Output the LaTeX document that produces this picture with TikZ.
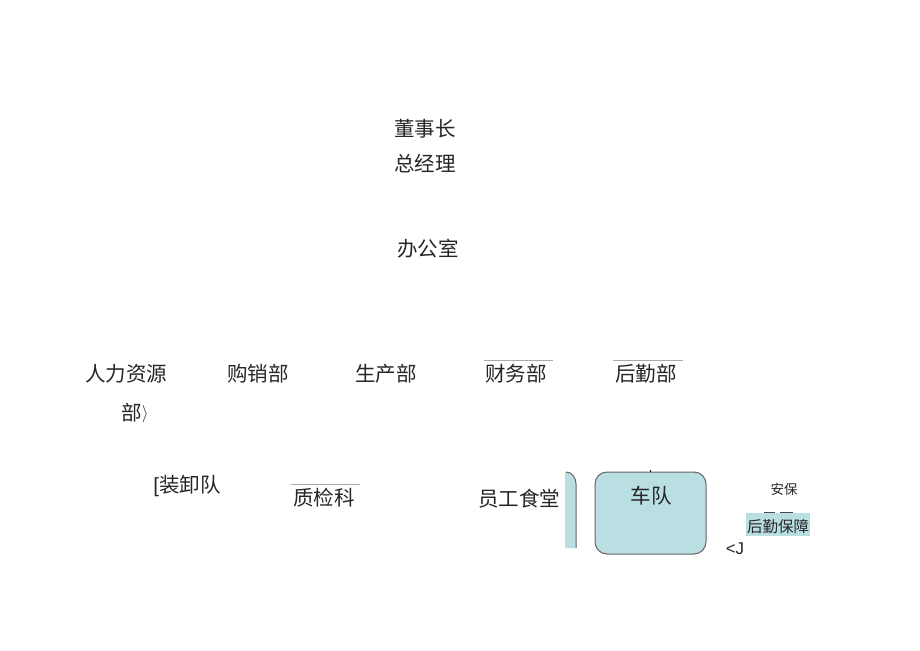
\documentclass[tikz,border=0pt]{standalone}
\usepackage{fontspec}
\newfontfamily\cjk{Noto Sans CJK SC}
\newfontfamily\lsans{Liberation Sans}
\definecolor{boxfill}{HTML}{B9DFE3}
\definecolor{boxline}{HTML}{666666}
\definecolor{rule}{HTML}{AAAAAA}
\tikzset{
  lbl/.style={font=\cjk\fontsize{20.5}{22}\selectfont, text=black!85, inner sep=0pt},
  small/.style={font=\cjk\fontsize{13.5}{15}\selectfont, text=black!85, inner sep=0pt},
  mid/.style={font=\cjk\fontsize{15.5}{17}\selectfont, text=black!85, inner sep=0pt},
  topline/.style={draw=rule, line width=0.8pt},
}
\begin{document}
\begin{tikzpicture}[x=1pt,y=-1pt]
\useasboundingbox[fill=white] (0,0) rectangle (920,650);
\node[lbl] (dsz) at (425,129) {董事长};
\node[lbl] (zjl) at (425,164) {总经理};
\node[lbl] (bgs) at (428,249) {办公室};
\node[lbl] (rlzy) at (126,374) {人力资源};
\node[lbl] (bu) at (135,413) {部{\lsans\fontsize{16}{16}\selectfont\raisebox{0.15ex}{$\rangle$}}};
\node[lbl] (gxb) at (258,374) {购销部};
\node[lbl] (scb) at (386,374) {生产部};
\node[lbl] (cwb) at (516,374) {财务部};
\node[lbl] (hqb) at (646,374) {后勤部};
\coordinate (c1) at (484,360); \coordinate (c2) at (553,360);
\draw[topline] (c1) -- (c2);
\coordinate (h1) at (613,360); \coordinate (h2) at (683,360);
\draw[topline] (h1) -- (h2);
\node[lbl] (zxd) at (187,486) {{\lsans [}装卸队};
\node[lbl] (zjk) at (324,498) {质检科};
\coordinate (q1) at (291,484); \coordinate (q2) at (360,484);
\draw[topline] (q1) -- (q2);
\node[lbl] (ygst) at (519,499) {员工食堂};
% partial box
\fill[boxfill] (565,472) -- (566,472) to[out=0,in=90] (576,484) -- (576,548) -- (565,548) -- cycle;
\draw[boxline, line width=1pt] (566,472) to[out=0,in=90] (576,484) -- (576,548);
% truck box
\node[draw=boxline, fill=boxfill, line width=1pt, rounded corners=12pt, minimum width=111pt, minimum height=82pt, inner sep=0pt] (cd) at (650.5,513) {};
\node[lbl] (cdt) at (651,496) {车队};
\coordinate (t1) at (650,470); \coordinate (t2) at (650,472);
\draw[black, line width=1pt] (t1) -- (t2);
\node[small] (ab) at (784,489) {安保};
\node[fill=boxfill, minimum width=64pt, minimum height=23pt, inner sep=0pt] (hqbzbg) at (778,524.5) {};
\node[mid] (hqbz) at (778,527) {后勤保障};
\coordinate (s1) at (764,512); \coordinate (s2) at (775,512);
\draw[black!70, line width=0.6pt] (s1) -- (s2);
\coordinate (s3) at (780,512); \coordinate (s4) at (793,512);
\draw[black!70, line width=0.6pt] (s3) -- (s4);
\node[lbl, font=\lsans\fontsize{17}{19}\selectfont] (lj) at (735,549) {<J};
\end{tikzpicture}
\end{document}
